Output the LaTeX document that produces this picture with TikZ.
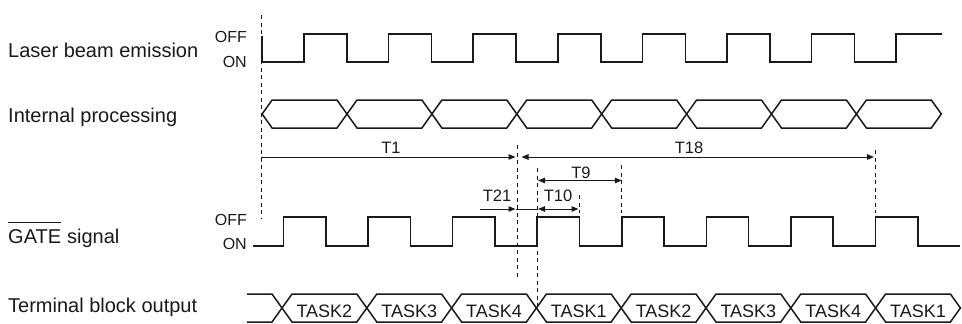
\documentclass[tikz,border=0pt]{standalone}
\usepackage{fontspec}
\setmainfont{Liberation Sans}
\usetikzlibrary{arrows.meta}
\begin{document}
\begin{tikzpicture}[x=1pt,y=-1pt,
  wave/.style={line width=1.5pt, line join=miter, color=black!90},
  guide/.style={line width=1pt, dash pattern=on 4pt off 3.5pt, color=black!90},
  dimr/.style={line width=1pt, color=black!90, -{Triangle[length=7pt,width=5.5pt]}},
  dimb/.style={line width=1pt, color=black!90, {Triangle[length=7pt,width=5.5pt]}-{Triangle[length=7pt,width=5.5pt]}},
  dimp/.style={line width=1pt, color=black!90},
  lab/.style={anchor=base west, inner sep=0pt, text=black!90, font=\fontsize{20}{24}\selectfont},
  lvl/.style={anchor=base east, inner sep=0pt, text=black!90, font=\fontsize{16}{19}\selectfont},
  tl/.style={anchor=base, inner sep=0pt, text=black!90, font=\fontsize{16.5}{20}\selectfont},
  task/.style={anchor=base, inner sep=0pt, text=black!90, font=\fontsize{18}{22}\selectfont}
]
\useasboundingbox (0,0) rectangle (962,324);

% ---- left labels ----
\node[lab] (laser) at (8,57) {Laser beam emission};
\node[lvl] (loff) at (247,42) {OFF};
\node[lvl] (lon) at (247,67) {ON};
\node[lab] (intp) at (8,122) {Internal processing};
\node[lab] (gatew) at (8,243) {GATE};
\node[lab] (gsig) at (gatew.base east) {\ signal};
\draw[line width=0.9pt, black!90] ([yshift=6.5pt]gatew.north west) -- ([yshift=6.5pt]gatew.north east);
\node[lvl] (goff) at (247,225) {OFF};
\node[lvl] (gon) at (247,249) {ON};
\node[lab] (term) at (8,312) {Terminal block output};

% ---- laser beam emission waveform ----
\draw[wave] (262,36) -- (262,62)
  foreach \k in {0,...,6} { -- ({304+84.6*\k},62) -- ({304+84.6*\k},34) -- ({347+84.6*\k},34) -- ({347+84.6*\k},62) }
  -- (896.2,62) -- (896.2,34) -- (942,34);

% ---- internal processing ----
\foreach \k in {0,...,7} {
  \pgfmathsetmacro\a{262.1+84.9*\k}
  \pgfmathsetmacro\b{\a+84.9}
  \draw[wave] (\a,114) -- ({\a+10},100) -- ({\b-10},100) -- (\b,114) -- ({\b-10},128) -- ({\a+10},128) -- cycle;
}

% ---- GATE signal ----
\draw[wave] (253,246)
  foreach \k in {0,...,7} { -- ({283.5+84.57*\k},246) -- ({283.5+84.57*\k},217) -- ({325.8+84.57*\k},217) -- ({325.8+84.57*\k},246) }
  -- (960,246);

% ---- terminal block output ----
\draw[wave] (247,294) -- (272,294) -- (282,308);
\draw[wave] (247,322) -- (272,322) -- (282,308);
\foreach \k/\t in {0/TASK2,1/TASK3,2/TASK4,3/TASK1,4/TASK2,5/TASK3,6/TASK4,7/TASK1} {
  \pgfmathsetmacro\a{282+84.8*\k}
  \pgfmathsetmacro\b{\a+84.8}
  \draw[wave] (\a,308) -- ({\a+10},294) -- ({\b-10},294) -- (\b,308) -- ({\b-10},322) -- ({\a+10},322) -- cycle;
  \node[task] (task\k) at ({(\a+\b)/2},317) {\t};
}

% ---- guide lines ----
\coordinate (g0t) at (261,15);    \coordinate (g0b) at (261,218);
\coordinate (g1t) at (517,145);   \coordinate (g1b) at (517,278);
\coordinate (g2t) at (537.2,168); \coordinate (g2b) at (537.2,306);
\coordinate (g3t) at (621.8,165); \coordinate (g3b) at (621.8,213);
\coordinate (g4t) at (579.5,195); \coordinate (g4b) at (579.5,213);
\coordinate (g5t) at (875.5,150); \coordinate (g5b) at (875.5,213);
\draw[guide] (g0t) -- (g0b);
\draw[guide] (g1t) -- (g1b);
\draw[guide] (g2t) -- (g2b);
\draw[guide] (g3t) -- (g3b);
\draw[guide] (g4t) -- (g4b);
\draw[guide] (g5t) -- (g5b);

% ---- dimensions ----
\coordinate (t1a) at (261,157);  \coordinate (t1b) at (515.5,157);
\coordinate (t18a) at (521.5,157); \coordinate (t18b) at (874,157);
\coordinate (t9a) at (538,180.5); \coordinate (t9b) at (621.8,180.5);
\coordinate (t21a) at (480,209); \coordinate (t21b) at (515.5,209);
\coordinate (t10a) at (538,209); \coordinate (t10b) at (578.5,209);
\draw[dimr] (t1a) -- (t1b);
\draw[dimb] (t18a) -- (t18b);
\draw[dimb] (t9a) -- (t9b);
\draw[dimr] (t21a) -- (t21b);
\draw[dimp] (t21b) -- (t10a);
\draw[dimb] (t10a) -- (t10b);
\node[tl] (T1) at (391,153) {T1};
\node[tl] (T18) at (689,153) {T18};
\node[tl] (T9) at (581,178) {T9};
\node[tl] (T21) at (497,201.5) {T21};
\node[tl] (T10) at (558,201.5) {T10};
\end{tikzpicture}
\end{document}
